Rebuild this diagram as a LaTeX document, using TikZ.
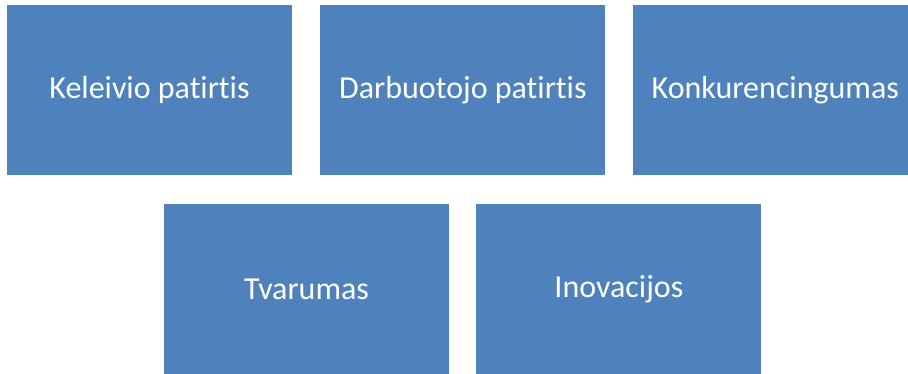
\documentclass[tikz,border=0pt]{standalone}
\usepackage{fontspec}
\setmainfont{Carlito}[Ligatures=NoCommon]
\usetikzlibrary{positioning}
\definecolor{officeblue}{HTML}{4F81BD}
\begin{document}
\begin{tikzpicture}[x=1pt, y=1pt, node distance=27pt,
  every node/.style={fill=officeblue, text=white, minimum width=285pt, minimum height=170pt, inner sep=0pt, font=\fontsize{32}{38}\selectfont}]
  \useasboundingbox (0,0) rectangle (908,-373);
  \node (keleivis) at (149.5,-90) {Keleivio patirtis};
  \node[right=28pt of keleivis] (darbuotojas) {Darbuotojo patirtis};
  \node[right=of darbuotojas] (konkurencija) {Konkurencingumas};
  \node (tvarumas) at (306.5,-289) {Tvarumas};
  \node[right=of tvarumas] (inovacijos) {Inovacijos};
\end{tikzpicture}
\end{document}
